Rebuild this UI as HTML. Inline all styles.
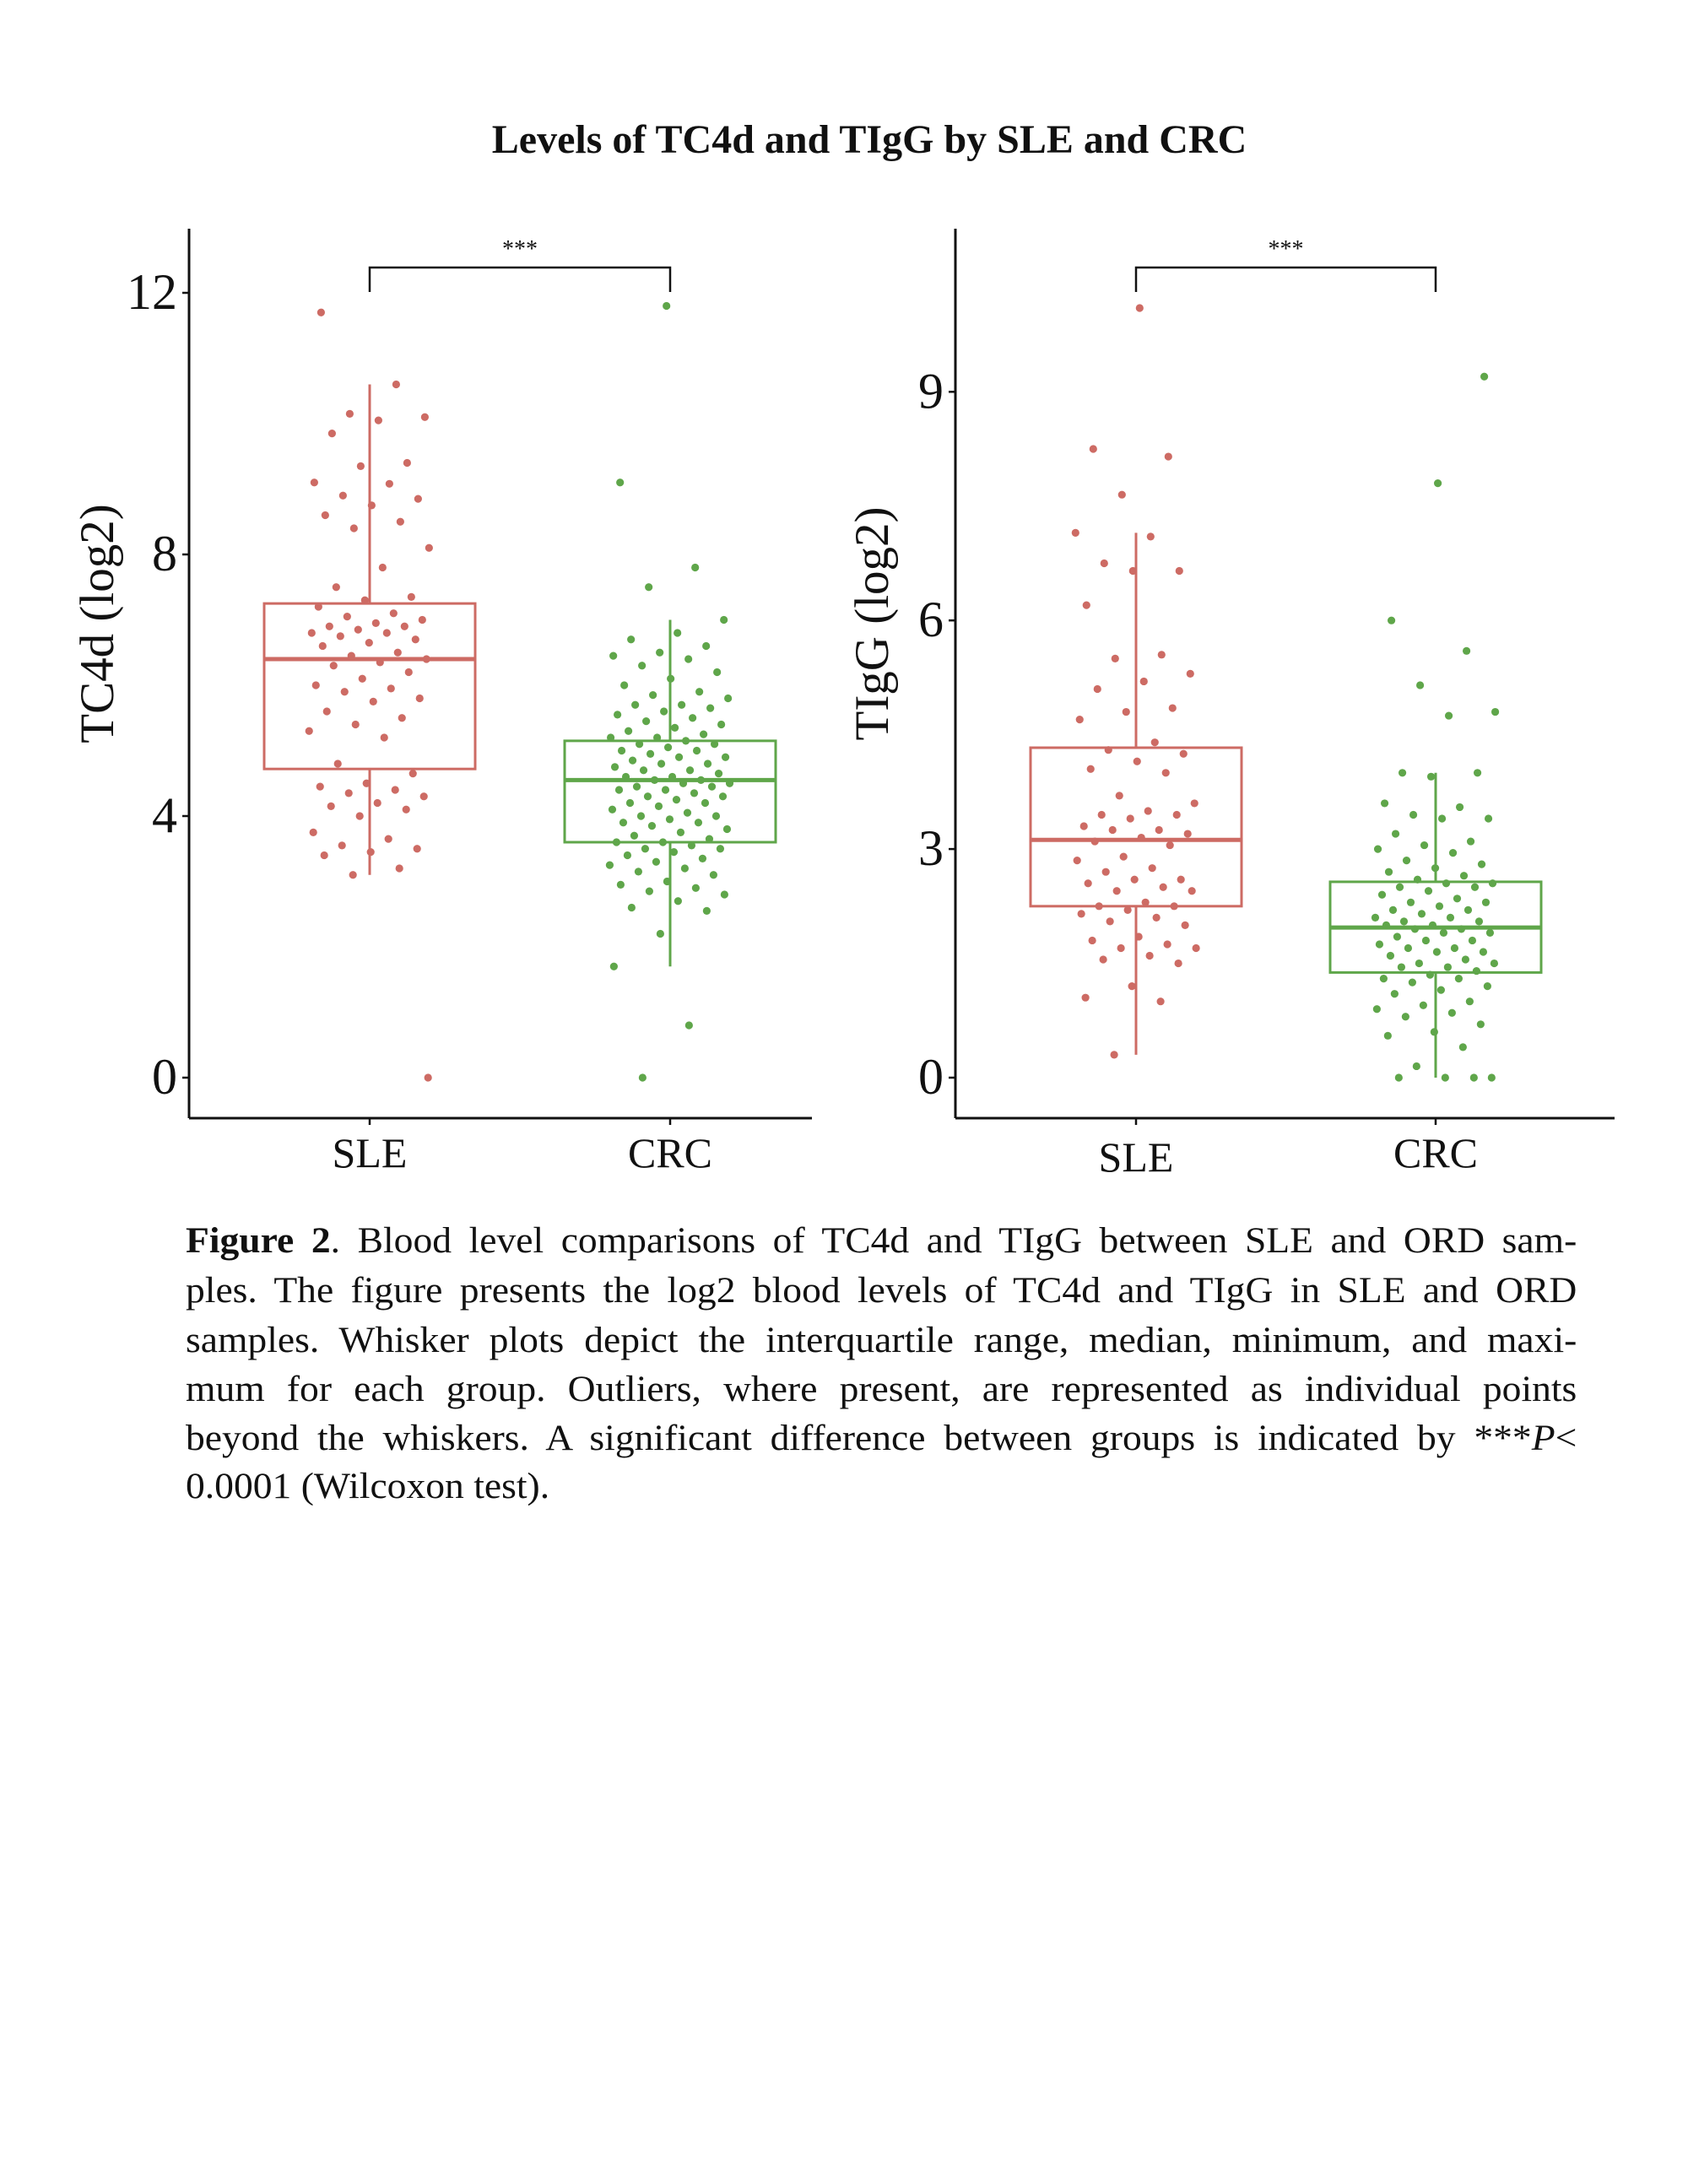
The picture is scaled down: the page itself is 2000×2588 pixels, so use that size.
<!DOCTYPE html>
<html><head><meta charset="utf-8"><style>
body{margin:0;width:2000px;height:2588px;background:#fff;overflow:hidden}
svg{position:absolute;left:0;top:0}
.cap{position:absolute;left:220px;top:0;width:1555px;font-family:"Liberation Serif",serif;font-size:43px;color:#111;transform:scaleX(1.06);transform-origin:0 0}
.ln{position:absolute;left:0;width:1555px;text-align:justify;text-align-last:justify;white-space:nowrap;height:50px;line-height:50px}
.last{text-align-last:left}
</style></head><body>
<svg id="chart" width="2000" height="1420" font-family="Liberation Serif, serif"></svg>
<div class="cap">
<div class="ln" style="top:1446px"><b>Figure 2</b>. Blood level comparisons of TC4d and TIgG between SLE and ORD sam-</div>
<div class="ln" style="top:1505px">ples. The figure presents the log2 blood levels of TC4d and TIgG in SLE and ORD</div>
<div class="ln" style="top:1564px">samples. Whisker plots depict the interquartile range, median, minimum, and maxi-</div>
<div class="ln" style="top:1622px">mum for each group. Outliers, where present, are represented as individual points</div>
<div class="ln" style="top:1680px">beyond the whiskers. A significant difference between groups is indicated by ***<i>P</i>&lt;</div>
<div class="ln last" style="top:1737px">0.0001 (Wilcoxon test).</div>
</div>
<script>
const groups = ["SLE","CRC"];
const tc4dSLE = [11.7,10.6,10.15,10.1,10.05,9.85,9.4,9.35,9.1,9.08,8.9,8.85,8.75,8.6,8.5,8.4,8.1,7.8,7.5,7.35,7.3,7.2,7.1,7.05,7.0,6.95,6.9,6.9,6.85,6.8,6.8,6.75,6.7,6.65,6.6,6.5,6.45,6.4,6.35,6.3,6.2,6.1,6.0,5.95,5.9,5.8,5.75,5.6,5.5,5.4,5.3,5.2,4.8,4.65,4.5,4.45,4.4,4.35,4.3,4.2,4.15,4.1,4.0,3.75,3.65,3.55,3.5,3.45,3.4,3.2,3.1,0];
const tc4dCRC = [11.8,9.1,7.8,7.5,7.0,6.8,6.7,6.6,6.5,6.45,6.4,6.3,6.2,6.1,6.0,5.9,5.85,5.8,5.7,5.7,5.65,5.6,5.55,5.5,5.45,5.4,5.35,5.3,5.25,5.2,5.2,5.15,5.1,5.1,5.05,5.0,5.0,4.95,4.9,4.9,4.85,4.8,4.8,4.75,4.7,4.7,4.65,4.6,4.6,4.55,4.55,4.5,4.5,4.45,4.45,4.4,4.4,4.35,4.3,4.3,4.25,4.2,4.2,4.15,4.1,4.05,4.0,4.0,3.95,3.9,3.9,3.85,3.8,3.75,3.7,3.65,3.6,3.6,3.55,3.5,3.5,3.45,3.4,3.35,3.3,3.25,3.2,3.15,3.1,3.0,2.95,2.9,2.85,2.8,2.7,2.6,2.55,2.2,1.7,0.8,0];
const tiggSLE = [10.1,8.25,8.15,7.65,7.15,7.1,6.75,6.65,6.65,6.2,5.55,5.5,5.3,5.2,5.1,4.85,4.8,4.7,4.4,4.3,4.25,4.15,4.05,4.0,3.7,3.6,3.5,3.45,3.45,3.4,3.3,3.25,3.25,3.2,3.15,3.1,3.05,2.9,2.85,2.75,2.7,2.6,2.6,2.55,2.5,2.45,2.45,2.3,2.25,2.25,2.2,2.15,2.1,2.05,2.0,1.85,1.8,1.75,1.7,1.7,1.6,1.55,1.5,1.2,1.05,1.0,0.3];
const tiggCRC = [9.2,7.8,6.0,5.6,5.15,4.8,4.75,4.0,4.0,3.95,3.6,3.55,3.45,3.4,3.4,3.2,3.1,3.05,3.0,2.95,2.85,2.8,2.75,2.7,2.65,2.6,2.55,2.55,2.5,2.5,2.45,2.4,2.35,2.3,2.3,2.25,2.2,2.2,2.15,2.1,2.1,2.05,2.05,2.0,2.0,1.95,1.95,1.9,1.9,1.85,1.8,1.8,1.75,1.7,1.7,1.65,1.65,1.6,1.55,1.5,1.5,1.45,1.45,1.4,1.35,1.3,1.3,1.25,1.2,1.15,1.1,1.0,0.95,0.9,0.85,0.8,0.7,0.6,0.55,0.4,0.15,0,0,0,0];
// box stats: [whiskerLow, Q1, median, Q3, whiskerHigh]
const tc4dBoxSLE = [3.1,4.72,6.4,7.25,10.6];
const tc4dBoxCRC = [1.7,3.6,4.55,5.15,7.0];
const tiggBoxSLE = [0.3,2.25,3.12,4.33,7.15];
const tiggBoxCRC = [0,1.38,1.97,2.57,4.0];
const tc4dTicks = [0,4,8,12];
const tiggTicks = [0,3,6,9];
const tc4dLabel = "TC4d (log2)";
const tigglabel = "TIgG (log2)";

const NS="http://www.w3.org/2000/svg";
const svg=document.getElementById('chart');
function mk(tag,attrs,parent,name,inter){const e=document.createElementNS(NS,tag);for(const k in attrs)e.setAttribute(k,attrs[k]);


(parent||svg).appendChild(e);return e;}
const RED="#cd6b64",GREEN="#5fa64a";

const title=mk('text',{x:1030,y:181,'text-anchor':'middle','font-size':48,'font-weight':'bold',fill:'#111'},svg,'chart-title');
title.textContent="Levels of TC4d and TIgG by SLE and CRC";

function panel(p){
  const g=mk('g',{},svg,p.name);
  const y=v=>p.y0-(v-0)*p.ppu;
  const xs=[p.x1,p.x2];
  mk('line',{x1:p.ax,y1:p.top,x2:p.ax,y2:1325,stroke:'#111','stroke-width':3},g,'y-axis-line');
  mk('line',{x1:p.ax,y1:1325,x2:p.axEnd,y2:1325,stroke:'#111','stroke-width':3},g,'x-axis-line');
  p.ticks.forEach(t=>{
    mk('line',{x1:p.ax-8,y1:y(t),x2:p.ax,y2:y(t),stroke:'#111','stroke-width':2.5},g,'y-tick');
    const tx=mk('text',{x:p.ax-14,y:y(t)+19,'text-anchor':'end','font-size':60,fill:'#111'},g,'y-tick-label');
    tx.textContent=t;
  });
  groups.forEach((gname,i)=>{
    mk('line',{x1:xs[i],y1:1325,x2:xs[i],y2:1333,stroke:'#111','stroke-width':2.5},g,'x-tick');
    const tx=mk('text',{x:xs[i],y:1383+(p.sleLow&&i==0?5:0),'text-anchor':'middle','font-size':50,fill:'#111'},g,'x-tick-label');
    tx.textContent=gname;
  });
  const yt=mk('text',{x:0,y:0,'text-anchor':'middle','font-size':57,fill:'#111',transform:`translate(${p.titleX},739) rotate(-90)`},g,'y-axis-title');
  yt.textContent=p.label;
  [p.boxA,p.boxB].forEach((b,i)=>{
    const c=i==0?RED:GREEN, cx=xs[i], hw=125;
    mk('line',{x1:cx,y1:y(b[0]),x2:cx,y2:y(b[1]),stroke:c,'stroke-width':3},g,groups[i].toLowerCase()+'-lower-whisker');
    mk('line',{x1:cx,y1:y(b[3]),x2:cx,y2:y(b[4]),stroke:c,'stroke-width':3},g,groups[i].toLowerCase()+'-upper-whisker');
    mk('rect',{x:cx-hw,y:y(b[3]),width:2*hw,height:y(b[1])-y(b[3]),fill:'none',stroke:c,'stroke-width':3},g,groups[i].toLowerCase()+'-box');
    mk('line',{x1:cx-hw,y1:y(b[2]),x2:cx+hw,y2:y(b[2]),stroke:c,'stroke-width':5},g,groups[i].toLowerCase()+'-median');
  });
  [p.ptsA,p.ptsB].forEach((arr,i)=>{
    const c=i==0?RED:GREEN, cx=xs[i];
    arr.forEach((v,k)=>{
      const j=((k*0.6180339+0.37*i+p.seed)%1)*2-1;
      mk('circle',{cx:cx+j*72,cy:y(v),r:4.6,fill:c},g,groups[i].toLowerCase()+'-point');
    });
  });
  mk('path',{d:`M${xs[0]},346 V317 H${xs[1]} V346`,fill:'none',stroke:'#111','stroke-width':2.5},g,'significance-bracket');
  const st=mk('text',{x:(xs[0]+xs[1])/2,y:304,'text-anchor':'middle','font-size':28,fill:'#111'},g,'significance-stars');
  st.textContent="***";
}
panel({name:'tc4d-panel',ax:224,axEnd:962,top:271,y0:1277,ppu:77.5,x1:438,x2:794,ticks:tc4dTicks,label:tc4dLabel,titleX:134,boxA:tc4dBoxSLE,boxB:tc4dBoxCRC,ptsA:tc4dSLE,ptsB:tc4dCRC,seed:0.1});
panel({name:'tigg-panel',ax:1132,axEnd:1913,top:271,y0:1277,ppu:90.3,x1:1346,x2:1701,ticks:tiggTicks,label:tigglabel,titleX:1052,boxA:tiggBoxSLE,boxB:tiggBoxCRC,ptsA:tiggSLE,ptsB:tiggCRC,seed:0.53,sleLow:true});
</script>
</body></html>
